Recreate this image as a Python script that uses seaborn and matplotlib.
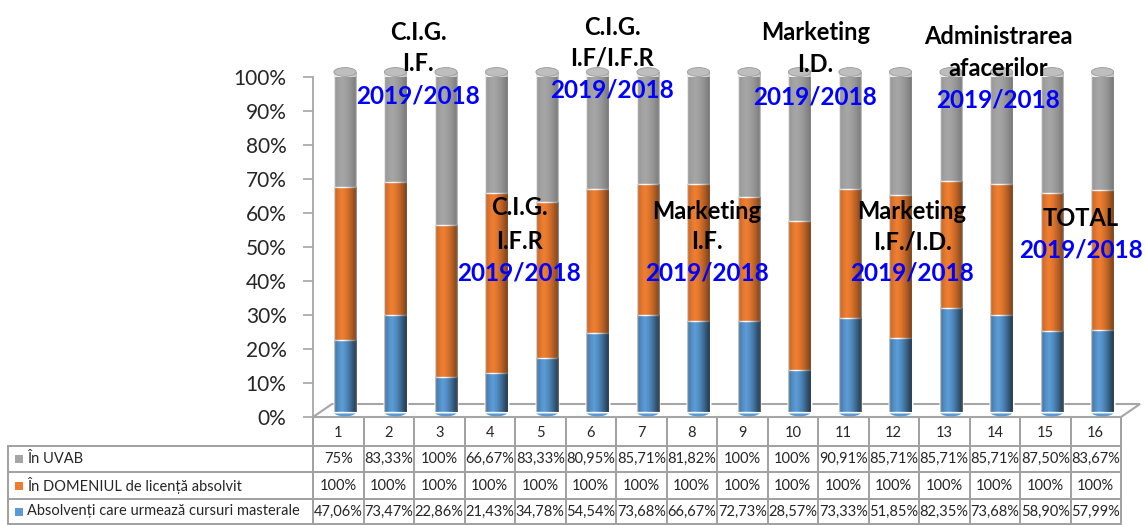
import numpy as np
import pandas as pd
import seaborn as sns
import matplotlib.pyplot as plt
from matplotlib.patches import Ellipse, Polygon, Rectangle
from matplotlib.transforms import ScaledTranslation

# ---------------------------------------------------------
# data (read off the reference table)
# ---------------------------------------------------------
columns = [str(i) for i in range(1, 17)]
in_uvab = [75, 83.33, 100, 66.67, 83.33, 80.95, 85.71, 81.82,
           100, 100, 90.91, 85.71, 85.71, 85.71, 87.50, 83.67]
in_domeniu = [100] * 16
masterale = [47.06, 73.47, 22.86, 21.43, 34.78, 54.54, 73.68, 66.67,
             72.73, 28.57, 73.33, 51.85, 82.35, 73.68, 58.90, 57.99]

series_names = ["În UVAB", "În DOMENIUL de licență absolvit",
                "Absolvenți care urmează cursuri masterale"]
colors = ["#A5A5A5", "#ED7D31", "#5B9BD5"]

# labels floating over the chart: (lines, x position in bar index, y in %)
group_labels = [
    (["C.I.G.", "I.F."], 1.45, [113.2, 104.0], 94.3),
    (["C.I.G.", "I.F/I.F.R"], 5.29, [114.7, 105.5], 96.1),
    (["Marketing", "I.D."], 9.31, [113.2, 103.8], 94.1),
    (["Administrarea", "afacerilor"], 12.93, [111.8, 102.6], 93.2),
    (["C.I.G.", "I.F.R"], 3.45, [61.5, 51.5], 42.4),
    (["Marketing", "I.F."], 7.17, [60.3, 51.5], 42.4),
    (["Marketing", "I.F./I.D."], 11.23, [60.3, 51.5], 42.4),
    (["TOTAL"], 14.57, [58.5], 49.1),
]
year_label = "2019/2018"

# ---------------------------------------------------------
# 100% stacked shares
# ---------------------------------------------------------
df = pd.DataFrame({"col": columns, "masterale": masterale,
                   "domeniu": in_domeniu, "uvab": in_uvab})
total = df[["masterale", "domeniu", "uvab"]].sum(axis=1)
df["lvl_blue"] = df["masterale"] / total * 100
df["lvl_orange"] = (df["masterale"] + df["domeniu"]) / total * 100
df["lvl_gray"] = 100.0

sns.set_style("white")
plt.rcParams["font.family"] = ["Lato", "DejaVu Sans"]

W, H = 1145, 525
fig = plt.figure(figsize=(W / 100, H / 100), dpi=100)

# pixel positions of the plot area
x0, x1 = 313, 1121
y_top, y_bot = 77, 417
ax = fig.add_axes([x0 / W, 1 - y_bot / H, (x1 - x0) / W, (y_bot - y_top) / H])

bar_w = 0.44
for col, c in zip(["lvl_gray", "lvl_orange", "lvl_blue"], colors):
    sns.barplot(data=df, x="col", y=col, color=c, saturation=1,
                width=bar_w, ax=ax, zorder=2)

shift = 32 / 50.5
ax.set_xlim(-shift, 16 - shift)
ax.set_ylim(0, 100)

# bars stand a little back on the 3D floor -> lift them a few pixels
lift = ax.transData + ScaledTranslation(0, 5 / 100, fig.dpi_scale_trans)

# cylinder shading
prof = np.linspace(0, 1, 64)
shade = np.zeros((1, 64, 4))
shade[..., 3] = 0.28 * np.abs(prof - 0.35) ** 1.6 / 0.65 ** 1.6
for p in list(ax.patches):
    p.set_transform(lift)
    bx, by = p.get_x(), p.get_y()
    bw, bh = p.get_width(), p.get_height()
    im = ax.imshow(shade, extent=(bx, bx + bw, by, by + bh),
                   aspect="auto", zorder=2.5, interpolation="bilinear")
    im.set_transform(lift)
    im.set_clip_path(p)

# top caps and rounded bottoms
cap_h = 2.6
for k in range(len(columns)):
    ax.add_patch(Ellipse((k, 100), bar_w, cap_h, facecolor="#BEBEBE",
                         edgecolor="#999999", lw=0.6, zorder=3,
                         clip_on=False, transform=lift))
    ax.add_patch(Ellipse((k, 0), bar_w, cap_h, facecolor=colors[2],
                         edgecolor="none", zorder=1.9, clip_on=False,
                         transform=lift))

ax.set_xlim(-shift, 16 - shift)
ax.set_ylim(0, 100)

# 3D floor
dx, dy = 19 / 50.5, 13 / 3.4
xl, xr = -shift, 16 - shift
floor = Polygon([(xl, 0), (xl + dx, dy), (xr + dx, dy), (xr, 0)], closed=True,
                facecolor="none", edgecolor="#A6A6A6", lw=1.5,
                clip_on=False, zorder=1)
ax.add_patch(floor)

ax.set_yticks(np.arange(0, 101, 10))
ax.set_yticklabels([f"{v}%" for v in range(0, 101, 10)], fontsize=15)
ax.tick_params(axis="y", direction="out", length=7, width=1.2,
               color="#A6A6A6", pad=12, left=True)
ax.set_xticks([])
ax.set_xlabel("")
ax.set_ylabel("")
for s in ["top", "right", "bottom"]:
    ax.spines[s].set_visible(False)
ax.spines["left"].set_color("#A6A6A6")
ax.spines["left"].set_linewidth(1.3)
ax.patch.set_alpha(0)

for lines, xk, ys, y_year in group_labels:
    for txt, yy in zip(lines, ys):
        ax.text(xk, yy, txt, ha="center", va="center", fontsize=17,
                fontweight="bold", color="black", zorder=5, clip_on=False)
    ax.text(xk, y_year, year_label, ha="center", va="center", fontsize=17.5,
            fontweight="bold", color="#0000FF", zorder=5, clip_on=False)

# ---------------------------------------------------------
# data table under the chart (pixel coordinates)
# ---------------------------------------------------------
tax = fig.add_axes([0, 0, 1, 1], zorder=-1)
tax.set_xlim(0, W)
tax.set_ylim(H, 0)
tax.axis("off")

line_c = "#A0A0A0"
col_w = (x1 - x0) / len(columns)
edges = [x0 + i * col_w for i in range(len(columns) + 1)]
row_edges = [418, 446, 472, 499, 524]

for xe in edges:
    tax.plot([xe, xe], [row_edges[0], row_edges[-1]], color=line_c, lw=1.4)
tax.plot([8, 8], [row_edges[1], row_edges[-1]], color=line_c, lw=1.4)
for ye in row_edges[1:]:
    tax.plot([8, x1], [ye, ye], color=line_c, lw=1.4)

def fmt(v):
    if float(v).is_integer():
        return f"{int(v)}%"
    return f"{v:.2f}%".replace(".", ",")

for i, lab in enumerate(columns):
    cx = (edges[i] + edges[i + 1]) / 2
    tax.text(cx, (row_edges[0] + row_edges[1]) / 2 + 1, lab, ha="center",
             va="center", fontsize=10.5)

for r, (name, vals, c) in enumerate(zip(series_names,
                                        [in_uvab, in_domeniu, masterale],
                                        colors)):
    yc = (row_edges[r + 1] + row_edges[r + 2]) / 2
    tax.add_patch(Rectangle((15, yc - 4), 8, 8, facecolor=c, edgecolor="none"))
    tax.text(27, yc, name, ha="left", va="center", fontsize=10.5)
    for i, v in enumerate(vals):
        cx = (edges[i] + edges[i + 1]) / 2
        tax.text(cx, yc, fmt(v), ha="center", va="center", fontsize=10.5)

fig.savefig("out.png", dpi=100)
